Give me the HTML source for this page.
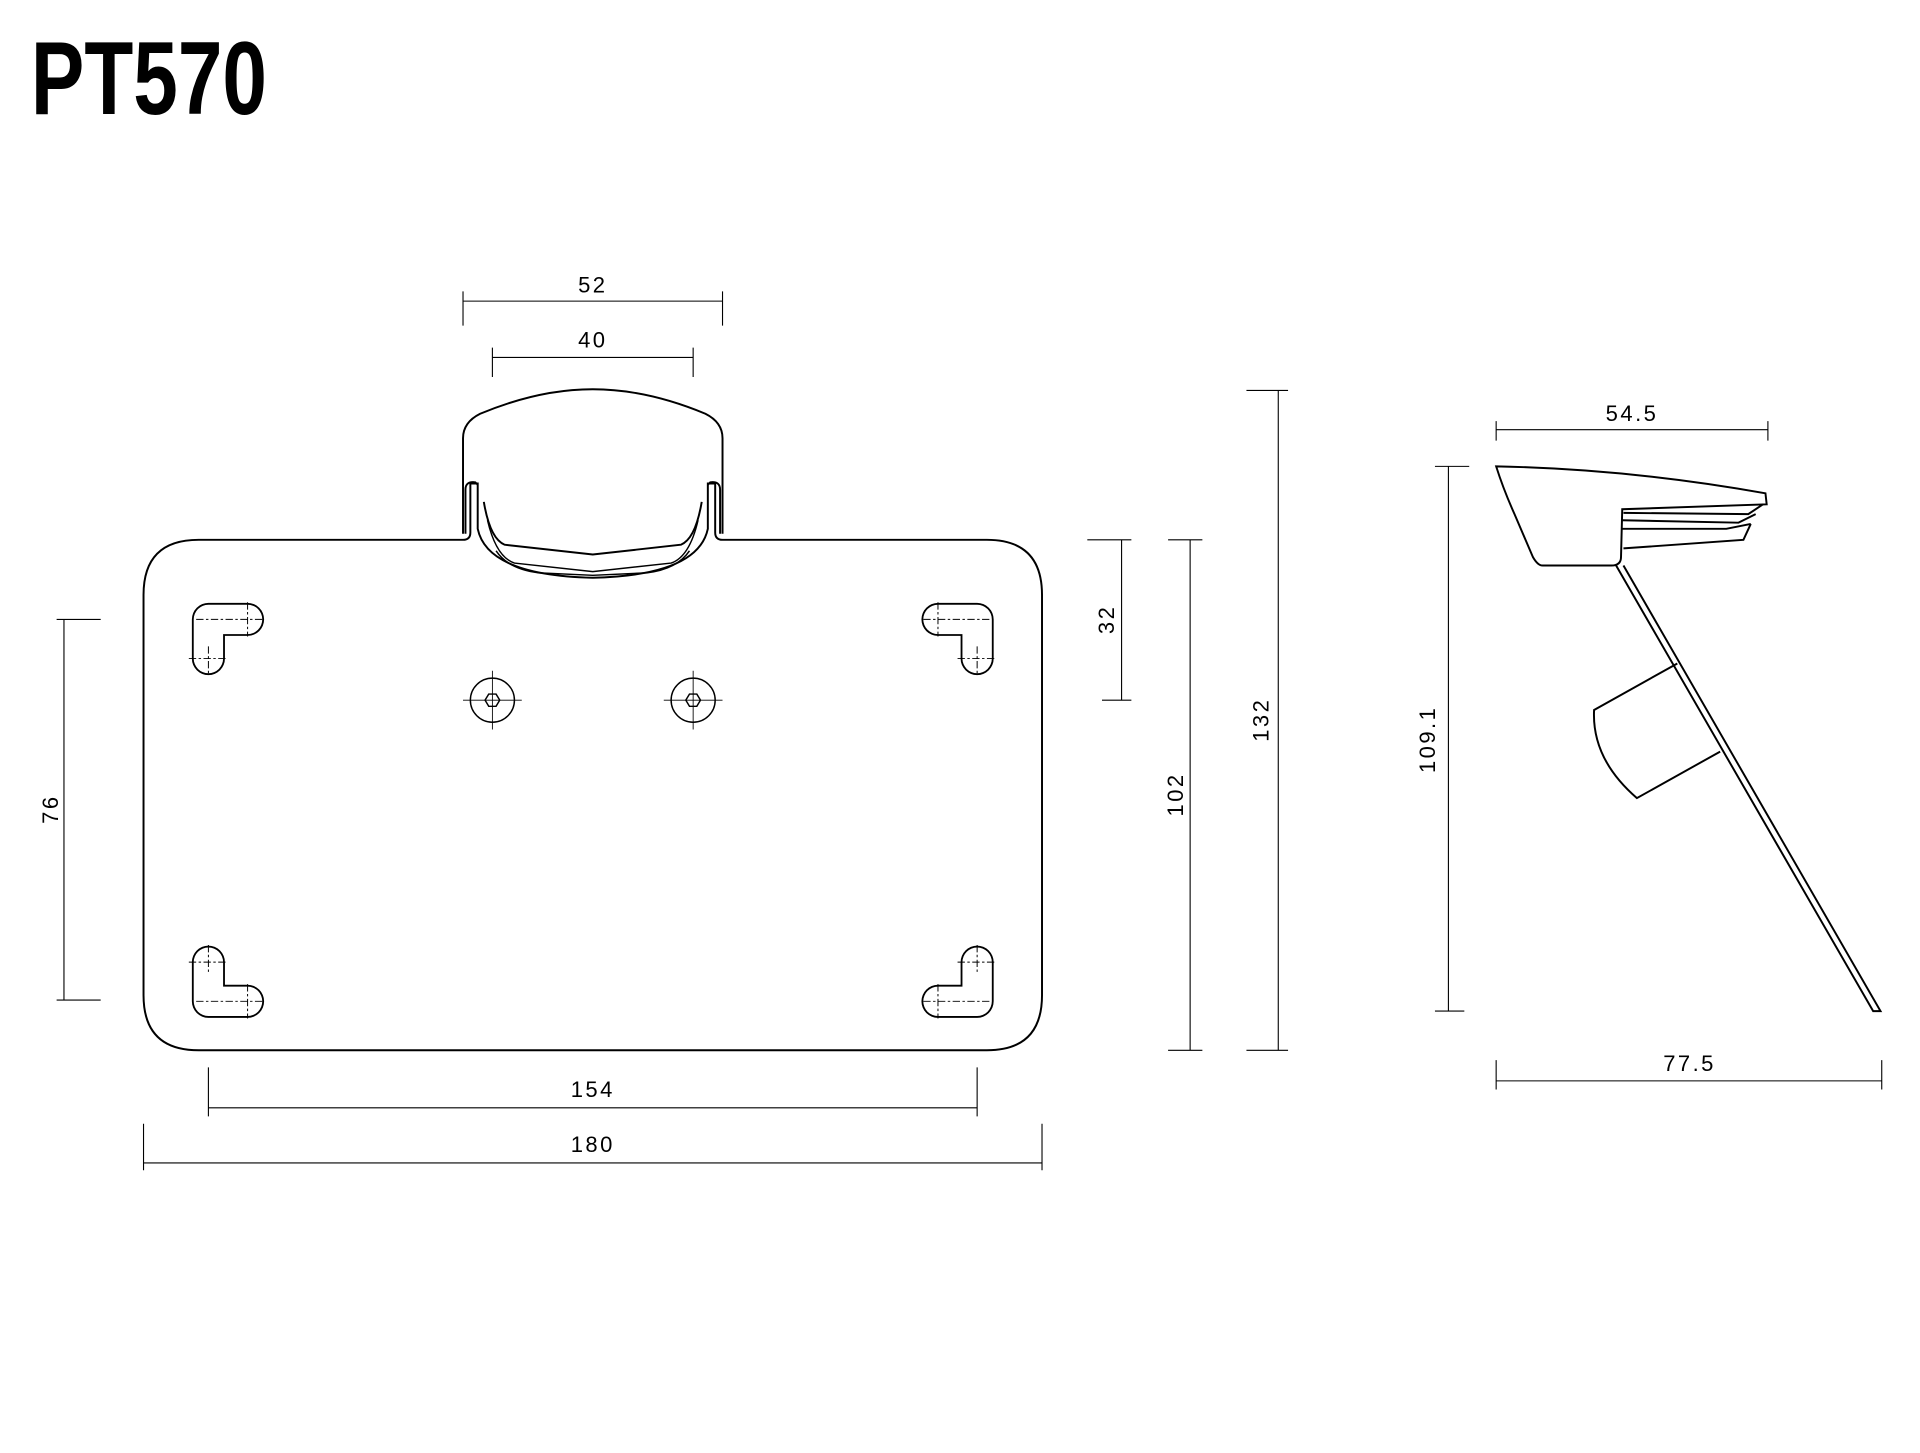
<!DOCTYPE html>
<html><head><meta charset="utf-8"><style>html,body{margin:0;padding:0;background:#fff}svg{display:block}</style></head>
<body>
<svg width="1920" height="1453" viewBox="0 0 1568 1187" xmlns="http://www.w3.org/2000/svg" font-family="Liberation Sans, sans-serif">
<text x="25" y="93" font-size="85" font-weight="bold" transform="translate(25 0) scale(0.77 1) translate(-25 0)">PT570</text>
<g fill="none" stroke="#000" stroke-width="1.6">
<!-- plate -->
<path d="M162,441 L378,441 Q384,441 384,435 L384,395 L390,395 L390,432 Q398,470 484,472 Q570,470 578,432 L578,395 L584,395 L584,435 Q584,441 590,441 L806,441 Q851,441 851,486 L851,813 Q851,858 806,858 L162,858 Q117,858 117,813 L117,486 Q117,441 162,441 Z"/>
<!-- light -->
<path d="M378,436 L378,358 Q378,345 392,338 Q440,318 484,318 Q528,318 576,338 Q590,345 590,358 L590,436"/>
<path d="M380,436 L380,400 Q380,393 388,394 L390,396"/>
<path d="M588,436 L588,400 Q588,393 580,394 L578,396"/>
<path d="M395,410 Q400,440 412,445 L484,453 L556,445 Q568,440 573,410"/>
<path d="M398,425 Q405,455 420,460 L484,467 L548,460 Q563,455 570,425" stroke-width="1.2"/>
<path d="M405,450 Q415,465 440,468 L484,470 L528,468 Q553,465 563,450" stroke-width="1.2"/>
</g>
<!-- slots -->
<g fill="none" stroke-linecap="round" stroke-linejoin="round">
<g stroke="#000" stroke-width="27">
<polyline points="170,538 170,506 202,506"/><polyline points="798,538 798,506 766,506"/>
<polyline points="170,786 170,818 202,818"/><polyline points="798,786 798,818 766,818"/>
</g>
<g stroke="#fff" stroke-width="24">
<polyline points="170,538 170,506 202,506"/><polyline points="798,538 798,506 766,506"/>
<polyline points="170,786 170,818 202,818"/><polyline points="798,786 798,818 766,818"/>
</g>
</g>
<g stroke="#000" stroke-width="0.8" stroke-dasharray="6,2,2,2" fill="none">
<path d="M160,506 H214 M202,492 V520 M170,528 V552 M154,538 H186"/>
<path d="M808,506 H754 M766,492 V520 M798,528 V552 M782,538 H814"/>
<path d="M160,818 H214 M202,804 V832 M170,772 V796 M154,786 H186"/>
<path d="M808,818 H754 M766,804 V832 M798,772 V796 M782,786 H814"/>
</g>
<!-- bolts -->
<g fill="none" stroke="#000" stroke-width="1.2">
<circle cx="402" cy="572" r="18"/><circle cx="566" cy="572" r="18"/>
<polygon points="396,572 399,567 405,567 408,572 405,577 399,577"/>
<polygon points="560,572 563,567 569,567 572,572 569,577 563,577"/>
<path d="M378,572 H426 M402,548 V596 M542,572 H590 M566,548 V596" stroke-width="0.7"/>
</g>
<!-- side view -->
<g fill="none" stroke="#000" stroke-width="1.6">
<path d="M1222,381 Q1330,383 1442,403 L1443,412 L1325,416 L1324,455 Q1324,462 1316,462 L1260,462 Q1256,462 1252,455 L1237,420 Q1228,400 1222,381 Z"/>
<path d="M1326,419 L1428,420 L1440,412 M1325,425 L1420,427 L1434,420 M1325,432 L1410,432 L1430,428"/>
<path d="M1430,428 L1424,441 L1326,448"/>
<path d="M1320,462 L1530,826 L1536,826 L1326,462"/>
<path d="M1370,542 L1302,580 Q1300,620 1337,652 L1405,614"/>
</g>
<!-- dimensions -->
<g stroke="#000" stroke-width="0.9" fill="none">
<path d="M378,238 V266 M590,238 V266 M378,246 H590"/>
<path d="M402,284 V308 M566,284 V308 M402,292 H566"/>
<path d="M170,872 V912 M798,872 V912 M170,905 H798"/>
<path d="M117,918 V956 M851,918 V956 M117,950 H851"/>
<path d="M46,506 H82 M46,817 H82 M52,506 V817"/>
<path d="M888,441 H924 M900,572 H924 M916,441 V572"/>
<path d="M954,441 H982 M954,858 H982 M972,441 V858"/>
<path d="M1018,319 H1052 M1018,858 H1052 M1044,319 V858"/>
<path d="M1222,344 V360 M1444,344 V360 M1222,351 H1444"/>
<path d="M1172,381 H1200 M1172,826 H1196 M1183,381 V826"/>
<path d="M1222,866 V890 M1537,866 V890 M1222,883 H1537"/>
</g>
<g font-size="18" letter-spacing="2" text-anchor="middle" fill="#000">
<text x="484" y="239">52</text>
<text x="484" y="284">40</text>
<text x="484" y="896">154</text>
<text x="484" y="941">180</text>
<text x="1333" y="344">54.5</text>
<text x="1380" y="875">77.5</text>
<text transform="translate(47 661) rotate(-90)">76</text>
<text transform="translate(910 506) rotate(-90)">32</text>
<text transform="translate(966 649) rotate(-90)">102</text>
<text transform="translate(1036 588) rotate(-90)">132</text>
<text transform="translate(1172 604) rotate(-90)">109.1</text>
</g>
</svg>
</body></html>
